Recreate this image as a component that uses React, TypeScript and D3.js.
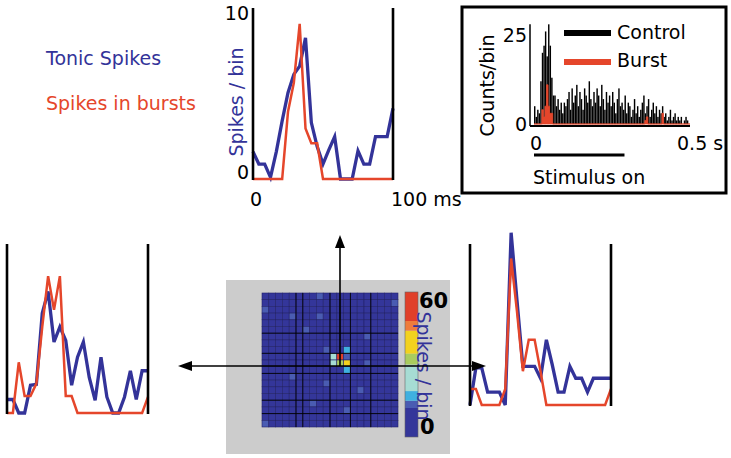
import * as d3 from 'd3';

// 25 bins spanning 0–100 ms after stimulus
const binIndex = d3.range(25);

// Top panel (preferred position)
const topTonic = [1.65, 0.9, 0.9, 0.1, 1.65, 3.5, 5.2, 6.3, 6.8, 8.5, 3.4, 1.95, 0.9, 1.75, 2.55, 0, 0, 0, 1.7, 0.9, 0.9, 2.55, 2.55, 2.55, 4.25];
const topBurst = [0, 0, 0, 0, 0, 0, 4.05, 5.8, 9.35, 3.05, 2.15, 2.15, 0, 0, 0, 0, 0, 0, 0, 0, 0, 0, 0, 0, 0];

// Left panel
const leftTonic = [0.8, 0.8, 0, 0, 1.64, 1.7, 5.9, 7.2, 4.2, 5.1, 4.3, 1.64, 3.3, 4.2, 2.1, 0.75, 3.3, 0.95, 0, 0, 0.95, 2.5, 0.8, 2.5, 2.5];
const leftBurst = [0, 0, 3.0, 1.0, 1.0, 1.74, 5.1, 8.1, 6.1, 8.1, 1.0, 1.0, 0, 0, 0, 0, 0, 0, 0, 0, 0, 0, 0, 0, 0.95];

// Right panel
const rightTonic = [0, 2.3, 2.3, 0.8, 0.8, 0.8, 0, 10.7, 6.5, 2.4, 2.4, 2.4, 1.66, 4.05, 2.5, 0.8, 0.8, 2.4, 1.66, 1.66, 0.8, 1.66, 1.66, 1.66, 1.66];
const rightBurst = [1.0, 1.0, 0, 0, 0, 0, 1.0, 9.1, 5.8, 2.1, 4.05, 4.05, 2.1, 0, 0, 0, 0, 0, 0, 0, 0, 0, 0, 0, 1.0];

// Inset PSTH, 5 ms bins over 0–0.5 s
const psthBinSec = 0.005;
const controlCounts = [
  5, 2, 4, 3, 12, 20, 22, 26, 19, 28,
  22, 13, 8, 8, 5, 7, 4, 6, 3, 6,
  5, 7, 9, 4, 10, 6, 8, 11, 5, 9,
  7, 4, 10, 8, 6, 12, 7, 5, 9, 6,
  10, 8, 5, 11, 7, 4, 9, 6, 8, 5,
  9, 6, 3, 7, 10, 5, 6, 4, 8, 3,
  6, 5, 2, 4, 7, 3, 5, 2, 4, 6,
  8, 3, 5, 7, 2, 4, 6, 3, 5, 2,
  4, 3, 5, 2, 3, 1, 2, 4, 1, 2,
  3, 1, 2, 1, 2, 0, 1, 2, 1, 0,
];
const burstCounts = [
  0, 0, 0, 0, 0, 4, 2, 5, 11, 5,
  3, 3, 0, 0, 0, 0, 0, 0, 0, 0,
  0, 0, 0, 0, 0, 0, 0, 0, 0, 0,
  0, 0, 0, 0, 0, 0, 0, 0, 0, 0,
  0, 0, 0, 0, 0, 0, 0, 0, 0, 0,
  0, 0, 0, 0, 0, 0, 0, 0, 0, 0,
  0, 0, 0, 0, 0, 0, 0, 0, 0, 0,
  0, 1, 2, 0, 0, 0, 0, 0, 0, 0,
  0, 0, 3, 0, 0, 0, 0, 0, 0, 0,
  0, 0, 0, 0, 0, 0, 0, 0, 0, 0,
];
const stimulusOn = [0, 0.29];

// Receptive-field map (spikes / bin), 20 x 20
const rfMap = [
  [4, 4, 4, 4, 4, 4, 4, 4, 13, 4, 4, 4, 4, 4, 4, 4, 4, 4, 4, 4],
  [4, 4, 4, 4, 4, 4, 4, 4, 4, 4, 4, 4, 4, 4, 4, 4, 4, 4, 4, 13],
  [13, 4, 4, 4, 4, 4, 4, 4, 4, 4, 4, 4, 4, 4, 4, 4, 4, 4, 4, 4],
  [4, 4, 4, 4, 13, 4, 4, 4, 13, 4, 4, 4, 4, 4, 4, 4, 4, 4, 4, 4],
  [4, 4, 4, 4, 4, 4, 4, 4, 4, 4, 4, 4, 4, 4, 4, 4, 4, 4, 4, 4],
  [4, 4, 4, 4, 4, 4, 13, 4, 4, 4, 4, 4, 4, 4, 4, 4, 4, 4, 4, 4],
  [4, 4, 4, 4, 4, 4, 4, 4, 4, 4, 4, 4, 4, 4, 4, 13, 4, 4, 4, 4],
  [4, 4, 4, 4, 4, 4, 4, 4, 4, 4, 4, 4, 4, 4, 4, 4, 4, 4, 4, 4],
  [4, 4, 4, 4, 4, 4, 4, 4, 4, 13, 4, 4, 17, 4, 4, 4, 4, 4, 4, 4],
  [4, 4, 4, 4, 4, 4, 4, 4, 4, 4, 25, 55, 13, 4, 4, 4, 4, 4, 4, 4],
  [4, 4, 4, 4, 4, 4, 4, 4, 4, 4, 22, 32, 40, 4, 4, 13, 4, 4, 4, 4],
  [4, 4, 4, 4, 4, 4, 4, 4, 4, 4, 4, 4, 17, 4, 4, 4, 4, 4, 4, 4],
  [4, 4, 4, 4, 13, 4, 4, 4, 4, 4, 4, 4, 4, 4, 4, 4, 4, 4, 4, 4],
  [4, 4, 4, 4, 4, 4, 4, 4, 4, 13, 4, 4, 4, 4, 4, 4, 4, 4, 4, 4],
  [4, 4, 4, 4, 4, 4, 4, 4, 4, 4, 4, 4, 4, 4, 13, 4, 4, 4, 4, 4],
  [4, 4, 4, 4, 4, 4, 4, 4, 4, 4, 4, 4, 4, 4, 4, 4, 4, 4, 4, 4],
  [4, 4, 4, 4, 4, 4, 4, 13, 4, 4, 4, 4, 4, 4, 4, 4, 4, 4, 4, 4],
  [4, 4, 4, 4, 4, 4, 4, 4, 4, 4, 4, 4, 13, 4, 4, 4, 4, 4, 4, 4],
  [4, 4, 4, 4, 4, 4, 4, 4, 4, 4, 4, 4, 4, 4, 4, 4, 4, 4, 4, 4],
  [13, 4, 4, 4, 4, 4, 4, 4, 4, 4, 4, 4, 4, 4, 4, 4, 4, 4, 4, 4],
];
// cell boundaries where the darker scan lines run
const rfColLines = [5, 6, 10, 13, 16];
const rfRowLines = [6, 9, 12, 16, 18];

const levelBreaks = [12, 15, 19, 30, 34.5, 44, 48];
const levelColors = ['#34369a', '#4a5cb2', '#3fb0e0', '#a6dcd4', '#a9cc5e', '#f2d21e', '#ef7c3c', '#e0402a'];

const BLUE = '#333399';
const RED = '#e5462b';
const FONT = '"DejaVu Sans", Verdana, sans-serif';
const FS = 19;

function TracePanel({ tonic, burst, x0, x1, yBase, yTop, axisTop }: {
  tonic: number[]; burst: number[]; x0: number; x1: number; yBase: number; yTop: number; axisTop: number;
}) {
  const x = d3.scaleLinear().domain([0, 24]).range([x0, x1]);
  const y = d3.scaleLinear().domain([0, 10]).range([yBase, yTop]);
  const line = d3.line<number>().x((_, i) => x(binIndex[i])).y(d => y(d));
  return (
    <g>
      <path d={line(tonic) ?? ''} fill="none" stroke={BLUE} strokeWidth={3.3} />
      <path d={line(burst) ?? ''} fill="none" stroke={RED} strokeWidth={2.5} />
      <line x1={x0} x2={x0} y1={axisTop} y2={yBase + 1} stroke="#000" strokeWidth={2.6} />
      <line x1={x1} x2={x1} y1={axisTop} y2={yBase + 1} stroke="#000" strokeWidth={2.6} />
    </g>
  );
}

function Psth() {
  const x = d3.scaleLinear().domain([0, 0.5]).range([534, 690]);
  const y = d3.scaleLinear().domain([0, 25]).range([124, 35]);
  const bw = x(psthBinSec) - x(0);
  const area = d3.area<number>()
    .x((_, i) => x(i * psthBinSec))
    .y0(y(0))
    .y1(d => y(d))
    .curve(d3.curveStepAfter);
  const burstPts = [...burstCounts, 0];
  return (
    <g fontFamily={FONT} fontSize={FS}>
      <rect x={462} y={7} width={264} height={186} fill="#fff" stroke="#000" strokeWidth={3} />
      {controlCounts.map((c, i) => (
        <rect key={i} x={x(i * psthBinSec)} y={y(c)} width={bw * 0.92} height={y(0) - y(c)} fill="#000" />
      ))}
      <path d={area(burstPts) ?? ''} fill={RED} stroke={RED} strokeWidth={0.8} />
      <line x1={530} x2={530} y1={y(28)} y2={126} stroke="#000" strokeWidth={1.5} />
      <line x1={530} x2={x(0.5)} y1={126} y2={126} stroke="#000" strokeWidth={2.2} />
      <text x={527} y={y(25)} dy="0.36em" textAnchor="end">25</text>
      <text x={527} y={y(0)} dy="0.36em" textAnchor="end">0</text>
      <text transform={`translate(487,${(y(0) + y(25)) / 2 + 6}) rotate(-90)`} textAnchor="middle" dy="0.36em">Counts/bin</text>
      <text x={x(0) + 2} y={150} textAnchor="middle">0</text>
      <text x={x(0.5) - 13} y={150}>0.5 s</text>
      <line x1={x(stimulusOn[0])} x2={x(stimulusOn[1])} y1={155} y2={155} stroke="#000" strokeWidth={3} />
      <text x={533} y={184}>Stimulus on</text>
      <line x1={564} x2={611} y1={33} y2={33} stroke="#000" strokeWidth={6} />
      <text x={617} y={32} dy="0.36em">Control</text>
      <line x1={564} x2={611} y1={62} y2={62} stroke={RED} strokeWidth={6} />
      <text x={617} y={60} dy="0.36em">Burst</text>
    </g>
  );
}

function RfMap() {
  const cols = d3.range(rfMap[0].length);
  const rows = d3.range(rfMap.length);
  const x = d3.scaleBand<number>().domain(cols).range([262, 398]);
  const y = d3.scaleBand<number>().domain(rows).range([293, 427]);
  const color = d3.scaleThreshold<number, string>().domain(levelBreaks).range(levelColors);
  const cb = d3.scaleLinear().domain([0, 60]).range([437, 292]);
  return (
    <g fontFamily={FONT}>
      <rect x={226} y={280} width={224} height={174} fill="#cccccc" />
      {rfMap.map((row, r) => row.map((v, c) => (
        <rect key={`${r}-${c}`} x={x(c)} y={y(r)} width={x.bandwidth()} height={y.bandwidth()}
          fill={color(v)} stroke="#23236a" strokeWidth={0.6} />
      )))}
      {rfColLines.map(c => (
        <line key={`vc${c}`} x1={x(c)} x2={x(c)} y1={293} y2={427} stroke="#000" strokeWidth={1} opacity={0.85} />
      ))}
      {rfRowLines.map(r => (
        <line key={`hr${r}`} x1={262} x2={398} y1={y(r)} y2={y(r)} stroke="#000" strokeWidth={1} opacity={0.85} />
      ))}
      {levelColors.map((col, i) => {
        const [a, b] = color.invertExtent(col);
        const lo = a ?? 0;
        const hi = b ?? 60;
        return <rect key={col} x={405} y={cb(hi)} width={13} height={cb(lo) - cb(hi)} fill={col} />;
      })}
      <rect x={405} y={cb(60)} width={13} height={cb(0) - cb(60)} fill="none" stroke="#666" strokeWidth={0.6} />
      <text x={419} y={cb(60) + 16} fontSize={21} fontWeight="bold">60</text>
      <text x={420} y={cb(0) - 3} fontSize={21} fontWeight="bold">0</text>
      <text transform={`translate(424,366) rotate(90)`} textAnchor="middle" dy="0.36em" fontSize={FS} fill={BLUE}>Spikes / bin</text>
    </g>
  );
}

export default function App() {
  const cx = 340;
  const cy = 366;
  return (
    <svg width={731} height={458} style={{ position: 'absolute', left: 0, top: 0, background: '#fff' }}>
      <rect width={731} height={458} fill="#fff" />
      <g fontFamily={FONT} fontSize={FS}>
        <text x={46} y={65} fill={BLUE}>Tonic Spikes</text>
        <text x={46} y={110} fill={RED}>Spikes in bursts</text>
        <text x={249} y={13} dy="0.36em" textAnchor="end" fill="#000">10</text>
        <text x={249} y={172} dy="0.36em" textAnchor="end" fill="#000">0</text>
        <text transform="translate(236,102) rotate(-90)" textAnchor="middle" dy="0.36em" fill={BLUE}>Spikes / bin</text>
        <text x={256} y={206} textAnchor="middle">0</text>
        <text x={391} y={206}>100 ms</text>
      </g>
      <TracePanel tonic={topTonic} burst={topBurst} x0={253} x1={393} yBase={179} yTop={13} axisTop={8} />
      <TracePanel tonic={leftTonic} burst={leftBurst} x0={7} x1={148} yBase={413} yTop={244} axisTop={244} />
      <TracePanel tonic={rightTonic} burst={rightBurst} x0={470} x1={611} yBase={405} yTop={244} axisTop={244} />
      <Psth />
      <RfMap />
      {/* arrows from the map centre */}
      <line x1={cx} x2={cx} y1={cy} y2={246} stroke="#000" strokeWidth={1.6} />
      <polygon points={`${cx},235 ${cx - 5},248 ${cx + 5},248`} fill="#000" />
      <line x1={190} x2={474} y1={cy} y2={cy} stroke="#000" strokeWidth={1.6} />
      <polygon points={`178,${cy} 192,${cy - 5} 192,${cy + 5}`} fill="#000" />
      <polygon points={`486,${cy} 472,${cy - 5} 472,${cy + 5}`} fill="#000" />
    </svg>
  );
}
